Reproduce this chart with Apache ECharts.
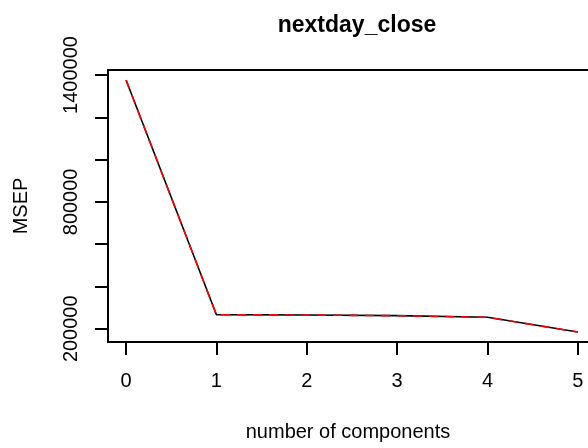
<!DOCTYPE html>
<html>
<head>
<meta charset="utf-8">
<script src="https://cdn.jsdelivr.net/npm/echarts@6/dist/echarts.min.js"></script>
<style>
  html, body { margin: 0; padding: 0; background: #fff; }
  #chart { width: 588px; height: 448px; }
</style>
</head>
<body>
<div id="chart"></div>
<script>
// number of components on the x axis
const components = [0, 1, 2, 3, 4, 5];
// cross-validated MSEP (black solid) and adjusted CV (red dashed)
const cvValues = [1376000, 266600, 265200, 261900, 254300, 184800];
const adjCvValues = [1375500, 266300, 265000, 261700, 254100, 184600];
// axis ticks and which of them get a label
const yTicks = [200000, 400000, 600000, 800000, 1000000, 1200000, 1400000];
const yLabels = [200000, 800000, 1400000];
const xTicks = [0, 1, 2, 3, 4, 5];

const font = 'Liberation Sans, Arial, Helvetica, sans-serif';
const black = { color: '#000', width: 2 };
const chart = echarts.init(document.getElementById('chart'), null, { renderer: 'canvas' });

chart.setOption({
  animation: false,
  title: {
    text: 'nextday_close',
    left: 352,
    top: 9,
    textAlign: 'center',
    textStyle: { fontFamily: font, fontSize: 23, fontWeight: 'bold', color: '#000' },
  },
  // the plot box runs past the right edge of the picture, so no right border
  grid: { left: 108, top: 70, right: 0, height: 272, show: false },
  xAxis: [
    {
      type: 'value',
      min: -0.2,
      max: 5.112,
      name: 'number of components',
      nameLocation: 'middle',
      nameGap: 80,
      nameTextStyle: { fontFamily: font, fontSize: 20, color: '#000' },
      axisLine: { show: true, onZero: false, lineStyle: black },
      axisTick: { show: true, customValues: xTicks, length: 13, lineStyle: black },
      axisLabel: {
        customValues: xTicks,
        margin: 29,
        fontFamily: font,
        fontSize: 20,
        color: '#000',
      },
      splitLine: { show: false },
    },
    {
      // top edge of the box
      type: 'value',
      position: 'top',
      min: -0.2,
      max: 5.112,
      axisLine: { show: true, onZero: false, lineStyle: black },
      axisTick: { show: false },
      axisLabel: { show: false },
      splitLine: { show: false },
    },
  ],
  yAxis: {
    type: 'value',
    min: 137360,
    max: 1423640,
    name: 'MSEP',
    nameLocation: 'middle',
    nameGap: 77,
    nameTextStyle: { fontFamily: font, fontSize: 20, color: '#000' },
    axisLine: { show: true, onZero: false, lineStyle: black },
    axisTick: { show: true, customValues: yTicks, length: 13, lineStyle: black },
    axisLabel: {
      customValues: yLabels,
      rotate: 90,
      margin: 27,
      formatter: (v) => String(v),
      fontFamily: font,
      fontSize: 20,
      color: '#000',
    },
    splitLine: { show: false },
  },
  series: [
    {
      name: 'CV',
      type: 'line',
      data: components.map((c, i) => [c, cvValues[i]]),
      showSymbol: false,
      lineStyle: { color: '#000', width: 1.6 },
      z: 2,
    },
    {
      name: 'adjCV',
      type: 'line',
      data: components.map((c, i) => [c, adjCvValues[i]]),
      showSymbol: false,
      lineStyle: { color: '#ff0000', width: 1.6, type: [9, 7] },
      z: 3,
    },
  ],
});
</script>
</body>
</html>
